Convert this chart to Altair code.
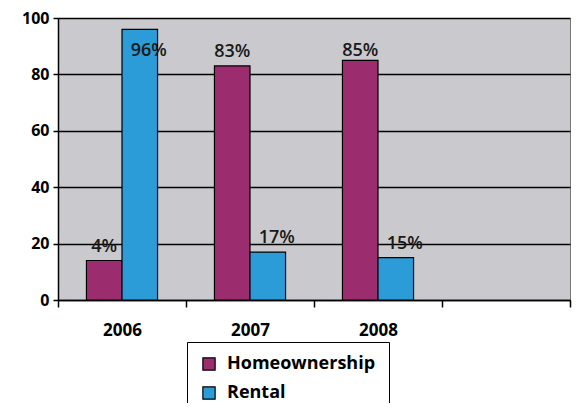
import altair as alt
import pandas as pd

years = ["2006", "2007", "2008", " "]
series = ["Homeownership", "Rental"]
home_values = [14, 83, 85]
rental_values = [96, 17, 15]
home_labels = ["4%", "83%", "85%"]
rental_labels = ["96%", "17%", "15%"]
colors = ["#9B2C6E", "#2B9CD8"]

rows = []
for i, y in enumerate(years[:3]):
    rows.append({"year": y, "series": series[0], "value": home_values[i], "label": home_labels[i]})
    rows.append({"year": y, "series": series[1], "value": rental_values[i], "label": rental_labels[i]})
df = pd.DataFrame(rows)

FONT = "Open Sans"

x_enc = alt.X("year:N", scale=alt.Scale(domain=years, paddingInner=0, paddingOuter=0),
              axis=alt.Axis(title=None, labelAngle=0, tickBand="extent", labelFontSize=17,
                            labelFont=FONT, labelFontWeight="bold", labelColor="black",
                            labelPadding=15, tickSize=7, tickColor="black", tickWidth=1.5,
                            domainColor="black", domainWidth=1.5, grid=False))
xoff = alt.XOffset("series:N", scale=alt.Scale(domain=series, paddingOuter=0.8, paddingInner=0))
y_enc = alt.Y("value:Q", scale=alt.Scale(domain=[0, 100]),
              axis=alt.Axis(title=None, values=[0, 20, 40, 60, 80, 100], labelFontSize=16,
                            labelFont=FONT, labelFontWeight="bold", labelColor="black",
                            tickSize=5, tickColor="black", tickWidth=1.5, labelPadding=4,
                            domainColor="black", domainWidth=1.5,
                            grid=True, gridColor="black", gridWidth=1.5))

bars = alt.Chart(df).mark_bar(stroke="black", strokeWidth=1.2).encode(
    x=x_enc, xOffset=xoff, y=y_enc,
    color=alt.Color("series:N", scale=alt.Scale(domain=series, range=colors),
                    legend=alt.Legend(title=None, orient="none", legendX=129, legendY=324,
                                      labelFont=FONT, labelFontSize=18, labelFontWeight="bold",
                                      labelColor="black", symbolType="square", symbolSize=150,
                                      symbolStrokeColor="black", symbolStrokeWidth=1.2,
                                      strokeColor="black", fillColor="white", padding=13,
                                      rowPadding=11, labelOffset=9, labelLimit=300)),
)

def text_layer(name, dx):
    return alt.Chart(df).transform_filter(alt.datum.series == name).transform_calculate(
        ly="min(datum.value, 83.5)"
    ).mark_text(baseline="bottom", dy=-5, dx=dx, font=FONT, fontSize=18, fontWeight=600,
                color="#1a1a1a").encode(
        x=alt.X("year:N", scale=alt.Scale(domain=years)),
        xOffset=alt.XOffset("series:N", scale=alt.Scale(domain=series)),
        y=alt.Y("ly:Q"),
        text="label:N",
    )

chart = alt.layer(bars, text_layer("Homeownership", 0), text_layer("Rental", 9)).properties(
    width=512, height=282,
    autosize=alt.AutoSizeParams(type="none"),
    padding={"left": 50, "top": 10, "right": 3, "bottom": 103},
).configure_view(fill="#CACACE", stroke="#777777", strokeWidth=1)

chart.save("out.html", embed_options={"renderer": "svg", "actions": False})
